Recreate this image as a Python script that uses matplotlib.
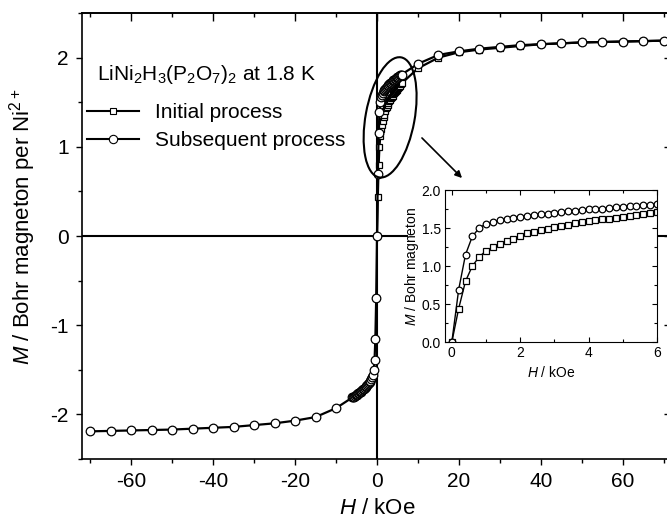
import matplotlib
matplotlib.use('Agg')
import matplotlib.pyplot as plt
import matplotlib.transforms as mtransforms
from matplotlib.patches import Ellipse, Rectangle
from matplotlib.lines import Line2D
from matplotlib.ticker import MultipleLocator, NullFormatter

plt.rcParams['font.family'] = ['Liberation Sans', 'DejaVu Sans']
plt.rcParams['mathtext.fontset'] = 'custom'
plt.rcParams['mathtext.rm'] = 'Liberation Sans'
plt.rcParams['mathtext.it'] = 'Liberation Sans:italic'
plt.rcParams['mathtext.default'] = 'regular'
plt.rcParams['axes.unicode_minus'] = False

# field steps below 6 kOe
h_low = [0, 0.2, 0.4, 0.6, 0.8, 1.0, 1.2, 1.4, 1.6, 1.8, 2.0,
         2.2, 2.4, 2.6, 2.8, 3.0, 3.2, 3.4, 3.6, 3.8, 4.0,
         4.2, 4.4, 4.6, 4.8, 5.0, 5.2, 5.4, 5.6, 5.8, 6.0]
h_high = [10, 15, 20, 25, 30, 35, 40, 45, 50, 55, 60, 65, 70]

# initial process (virgin curve)
init_low = [0.0, 0.44, 0.80, 1.00, 1.12, 1.20, 1.25, 1.29, 1.33, 1.36, 1.40,
            1.43, 1.45, 1.47, 1.49, 1.51, 1.53, 1.545, 1.56, 1.575, 1.59,
            1.60, 1.615, 1.625, 1.635, 1.65, 1.66, 1.675, 1.685, 1.70, 1.71]
init_high = [1.88, 2.00, 2.06, 2.09, 2.11, 2.13, 2.15, 2.16, 2.17, 2.175, 2.18, 2.185, 2.19]

# subsequent process, positive field side
sub_low = [0.0, 0.69, 1.15, 1.39, 1.50, 1.555, 1.58, 1.60, 1.62, 1.635, 1.65,
           1.66, 1.67, 1.68, 1.69, 1.70, 1.71, 1.72, 1.73, 1.74, 1.745,
           1.75, 1.755, 1.765, 1.77, 1.78, 1.785, 1.79, 1.80, 1.805, 1.81]
sub_high = [1.93, 2.03, 2.07, 2.10, 2.12, 2.14, 2.15, 2.16, 2.17, 2.175, 2.18, 2.185, 2.19]

# subsequent process, negative field side
h_neg = [-70, -65, -60, -55, -50, -45, -40, -35, -30, -25, -20, -15, -10,
         -6.0, -5.8, -5.6, -5.4, -5.2, -5.0, -4.8, -4.6, -4.4, -4.2, -4.0,
         -3.8, -3.6, -3.4, -3.2, -3.0, -2.8, -2.6, -2.4, -2.2, -2.0,
         -1.8, -1.6, -1.4, -1.2, -1.0, -0.8, -0.6, -0.4, -0.2]
sub_neg = [-2.19, -2.185, -2.18, -2.175, -2.17, -2.16, -2.15, -2.14, -2.12, -2.10, -2.07, -2.03, -1.93,
           -1.81, -1.805, -1.80, -1.79, -1.785, -1.78, -1.77, -1.765, -1.755, -1.75, -1.745,
           -1.74, -1.73, -1.72, -1.71, -1.70, -1.69, -1.68, -1.67, -1.66, -1.65,
           -1.635, -1.62, -1.60, -1.58, -1.555, -1.50, -1.39, -1.15, -0.70]

init_h = h_low + h_high
init_m = init_low + init_high
sub_h = h_neg + h_low + h_high
sub_m = sub_neg + sub_low + sub_high

W, H = 667, 521
fig = plt.figure(figsize=(W / 100, H / 100), dpi=100)

def frac(x0, y0, x1, y1):
    # pixel box (top-left origin) -> figure fraction rect
    return [x0 / W, 1 - y1 / H, (x1 - x0) / W, (y1 - y0) / H]

ax = fig.add_axes(frac(82, 13, 672, 459))
ax.axhline(0, color='k', lw=1.5, zorder=1)
ax.axvline(0, color='k', lw=1.5, zorder=1)
ax.plot(init_h, init_m, color='k', lw=1.6, marker='s', ms=4.6, mfc='w', mec='k', mew=0.9, zorder=3)
ax.plot(sub_h, sub_m, color='k', lw=1.6, marker='o', ms=6.2, mfc='w', mec='k', mew=0.9, zorder=4)

ax.set_xlim(-72, 72)
ax.set_ylim(-2.5, 2.5)
for s in ax.spines.values():
    s.set_linewidth(1.2)

# bottom/left ticks outward, top/right ticks inward on secondary axes
top = ax.secondary_xaxis('top')
right = ax.secondary_yaxis('right')
for a in (ax.xaxis, top.xaxis):
    a.set_major_locator(MultipleLocator(20))
    a.set_minor_locator(MultipleLocator(10))
for a in (ax.yaxis, right.yaxis):
    a.set_major_locator(MultipleLocator(1))
    a.set_minor_locator(MultipleLocator(0.5))
ax.tick_params(which='both', direction='out', width=1.0, labelsize=15)
ax.tick_params(which='major', length=4.5, pad=5)
ax.tick_params(which='minor', length=3)
for sec in (top, right):
    sec.tick_params(which='both', direction='in', width=1.0, labelsize=0)
    sec.tick_params(which='major', length=5.5)
    sec.tick_params(which='minor', length=3)
top.xaxis.set_major_formatter(NullFormatter())
right.yaxis.set_major_formatter(NullFormatter())
top.spines['top'].set_linewidth(1.2)
right.spines['right'].set_linewidth(1.2)

ax.set_xlabel(r'$\mathit{H}$ / kOe', fontsize=16)
ax.set_ylabel(r'$\mathit{M}$ / Bohr magneton per Ni$^{2+}$', fontsize=16)
ax.xaxis.set_label_coords(0.5, -0.088)
ax.yaxis.set_label_coords(-0.074, 0.52)

fig.text(97 / W, 1 - 75 / H, r'LiNi$_2$H$_3$(P$_2$O$_7$)$_2$ at 1.8 K', fontsize=15, va='center')

handles = [Line2D([], [], color='k', lw=1.5, marker='s', ms=5, mfc='w', mew=0.8),
           Line2D([], [], color='k', lw=1.5, marker='o', ms=6, mfc='w', mew=0.8)]
fig.legend(handles, ['Initial process', 'Subsequent process'], loc='upper left',
           bbox_to_anchor=(87 / W, 1 - 103 / H), frameon=False, fontsize=15,
           handlelength=2.5, handletextpad=0.75, labelspacing=0.45, borderaxespad=0, borderpad=0)

# ellipse around the low-field region, sized in inches
etrans = fig.dpi_scale_trans + mtransforms.ScaledTranslation(3.2, 1.33, ax.transData)
ax.add_patch(Ellipse((0, 0), 0.49, 1.22, angle=-10.4, fill=False, ec='k', lw=1.5,
                     transform=etrans, zorder=5))
ax.annotate('', xy=(464, H - 180), xycoords='figure pixels',
            xytext=(420, H - 136), textcoords='figure pixels',
            arrowprops=dict(arrowstyle='-|>', color='k', lw=1.2, mutation_scale=10))

# white backing behind the inset and its labels
fig.patches.append(Rectangle((408 / W, 1 - 382 / H), (657 - 408) / W, (382 - 183) / H,
                             transform=fig.transFigure, fc='w', ec='none', zorder=6))

ins = fig.add_axes(frac(445, 190, 657, 342), zorder=7)
ins.plot(h_low, init_low, color='k', lw=1.0, marker='s', ms=4.2, mfc='w', mec='k', mew=0.9)
ins.plot(h_low, sub_low, color='k', lw=1.0, marker='o', ms=4.8, mfc='w', mec='k', mew=0.9)
ins.set_xlim(-0.2, 6)
ins.set_ylim(0, 2)
ins.xaxis.set_major_locator(MultipleLocator(2))
ins.xaxis.set_minor_locator(MultipleLocator(1))
ins.yaxis.set_major_locator(MultipleLocator(0.5))
ins.yaxis.set_minor_locator(MultipleLocator(0.25))
for s in ins.spines.values():
    s.set_linewidth(0.8)
ins.tick_params(which='both', direction='in', top=True, right=True, width=0.8, labelsize=10)
ins.tick_params(which='major', length=3.5, pad=3)
ins.tick_params(which='minor', length=2)
ins.set_xlabel(r'$\mathit{H}$ / kOe', fontsize=10)
ins.set_ylabel(r'$\mathit{M}$ / Bohr magneton', fontsize=10)
ins.xaxis.set_label_coords(0.5, -0.15)
ins.yaxis.set_label_coords(-0.115, 0.5)

fig.savefig('out.png', dpi=100)
